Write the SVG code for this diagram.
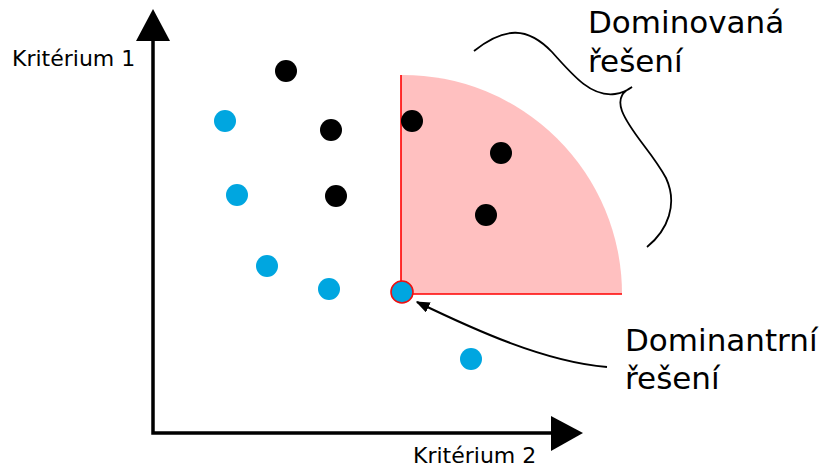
<svg xmlns="http://www.w3.org/2000/svg" width="824" height="470" viewBox="0 0 824 470">
<style>
text{font-family:"DejaVu Sans","Liberation Sans",sans-serif;fill:#000}
.ax{font-size:22px}
.lb{font-size:31px}
.blk{fill:#000}
.blu{fill:#00a6e0}
.axis{fill:none;stroke:#000;stroke-width:3.5}
</style>
<defs>
<marker id="ah" viewBox="0 0 10 10" refX="9" refY="5" markerWidth="14" markerHeight="11" preserveAspectRatio="none" orient="auto" markerUnits="userSpaceOnUse">
<path d="M0,0 L10,5 L0,10 z" fill="#000"/>
</marker>
</defs>
<g id="region">
<path d="M401,294 V75 A219,219 0 0 1 622,294 Z" fill="#ffc0c0"/>
<path d="M401,75 V294 H622" fill="none" stroke="#ff0000" stroke-width="1.6"/>
</g>
<g id="axes">
<path class="axis" d="M153,40 V433 H552"/>
<path d="M153,9 L136,41 L170,41 Z" fill="#000"/>
<path d="M583,433 L551,416 L551,451 Z" fill="#000"/>
<text class="ax" x="12" y="66">Kritérium 1</text>
<text class="ax" x="413" y="463">Kritérium 2</text>
</g>
<g id="points-dominated">
<circle class="blk" cx="286" cy="71" r="11"/>
<circle class="blk" cx="331" cy="130" r="11"/>
<circle class="blk" cx="336" cy="196" r="11"/>
<circle class="blk" cx="412" cy="121" r="11"/>
<circle class="blk" cx="501" cy="153" r="11"/>
<circle class="blk" cx="486" cy="215" r="11"/>
</g>
<g id="points-other">
<circle class="blu" cx="225" cy="121" r="11"/>
<circle class="blu" cx="237" cy="195" r="11"/>
<circle class="blu" cx="267" cy="266" r="11"/>
<circle class="blu" cx="329" cy="289" r="11"/>
<circle class="blu" cx="471" cy="359" r="11"/>
</g>
<g id="dominant">
<circle cx="402" cy="292" r="11" fill="#00a6e0" stroke="#ee1111" stroke-width="1.6"/>
</g>
<g id="connectors">
<path d="M607,367 C545,362 475,330 417,302" fill="none" stroke="#000" stroke-width="2" marker-end="url(#ah)"/>
<path d="M474,51 C505,26 528,27 552,52 C575,78 592,97 615,94 C622,93 628,90 632,87 C624,91 617,97 622,111 C630,132 652,152 666,178 C678,204 668,230 647,247" fill="none" stroke="#000" stroke-width="1.8"/>
</g>
<g id="labels">
<text class="lb" x="588" y="33">Dominovaná</text>
<text class="lb" x="588" y="72">řešení</text>
<text class="lb" x="625" y="351">Dominantrní</text>
<text class="lb" x="625" y="389">řešení</text>
</g>
</svg>
